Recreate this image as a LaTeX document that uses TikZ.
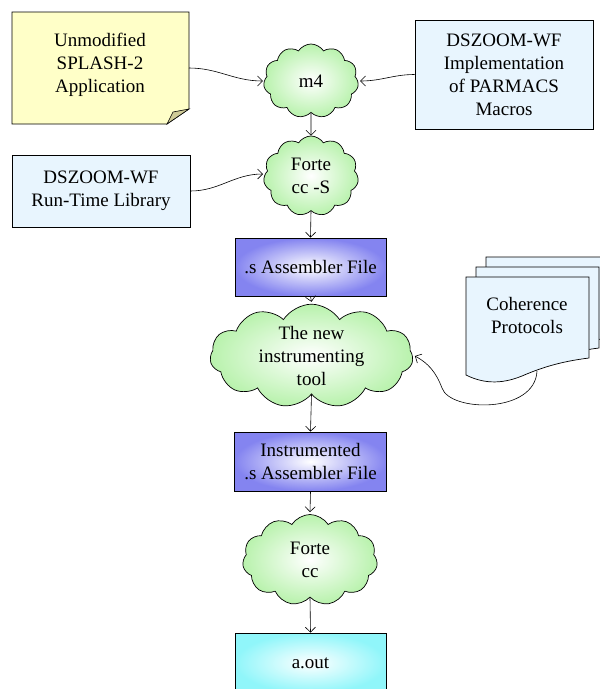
\documentclass[tikz,border=0pt]{standalone}
\usepackage{fontspec}
\setmainfont{Liberation Serif}
\usetikzlibrary{shapes.symbols,arrows.meta}
\definecolor{noteY}{HTML}{FFFFC8}
\definecolor{noteFold}{HTML}{CFCB98}
\definecolor{lblue}{HTML}{E8F5FE}
\definecolor{cgreen}{HTML}{B8F2AC}
\definecolor{purp}{HTML}{8484F0}
\definecolor{cyanb}{HTML}{90F6FA}
\begin{document}
\begin{tikzpicture}[x=1pt,y=-1pt,
  every node/.style={font=\fontsize{19}{23}\selectfont, align=center, inner sep=0pt},
  lbox/.style={draw=black, line width=0.7pt, fill=lblue, rectangle},
  cloudn/.style={draw=black, line width=0.7pt, shape=cloud, cloud puffs=11, cloud puff arc=115, cloud ignores aspect, inner color=white, outer color=cgreen},
  pbox/.style={draw=black, line width=0.7pt, rectangle, inner color=white, outer color=purp},
  cbox/.style={draw=black, line width=0.7pt, rectangle, inner color=white, outer color=cyanb},
  conn/.style={draw=black, line width=0.6pt, -{Straight Barb[length=5pt,width=10pt]}}
]
\useasboundingbox (0,0) rectangle (600,689);
\clip (0,0) rectangle (600,689);
% yellow note
\path[draw=black, line width=0.7pt, fill=noteY] (12,12) -- (189,12) -- (189,109) -- (167,124) -- (12,124) -- cycle;
\path[draw=black, line width=0.6pt, fill=noteFold] (189,109) -- (167,124) -- (173,112) -- cycle;
\node (note) at (100,65) {Unmodified\\SPLASH-2\\Application};
\coordinate (noteE) at (189,68);
% boxes
\node[lbox, minimum width=178pt, minimum height=109pt] (impl) at (504,74.5) {DSZOOM-WF\\Implementation\\of PARMACS\\Macros};
\node[lbox, minimum width=178pt, minimum height=72pt] (rtl) at (101,191) {DSZOOM-WF\\Run-Time Library};
% clouds
\node[cloudn, minimum width=95pt, minimum height=74pt] (m4) at (311,81) {m4};
\node[cloudn, minimum width=95pt, minimum height=80pt] (fs) at (311,176) {Forte\\cc -S};
\node[pbox, minimum width=151pt, minimum height=58pt] (asm) at (310.5,267) {.s Assembler File};
\node[cloudn, minimum width=203pt, minimum height=102pt] (tool) at (311.5,356) {The new\\instrumenting\\tool};
\node[pbox, minimum width=152pt, minimum height=59pt] (iasm) at (310.5,461.5) {Instrumented\\.s Assembler File};
\node[cloudn, minimum width=135pt, minimum height=91pt] (fc) at (310,560) {Forte\\cc};
\node[cbox, minimum width=151pt, minimum height=60pt] (aout) at (310.5,663) {a.out};
% coherence documents
\foreach \d in {20,10,0}{
  \path[draw=black, line width=0.7pt, fill=lblue, shift={(\d,-\d)}]
    (466,277) -- (589,277) -- (589,358)
    .. controls (565,361) and (545,366) .. (522,376)
    .. controls (500,385) and (482,383) .. (466,375) -- cycle;
}
\node (coh) at (527,315) {Coherence\\Protocols};
\coordinate (cohb) at (537,371);
% connectors
\draw[conn] (noteE) to[out=0,in=180] ([xshift=-1pt]m4.west);
\draw[conn] (impl.west) to[out=180,in=0] ([xshift=2pt]m4.east);
\draw[conn] (rtl.east) to[out=0,in=180] ([xshift=-1pt,yshift=2pt]fs.west);
\draw[conn] (m4.south) -- (fs.north);
\draw[conn] (fs.south) -- (asm.north);
\draw[conn] (asm.south) -- ([yshift=2pt]tool.north);
\draw[conn] (tool.south) -- (iasm.north);
\draw[conn] (iasm.south) -- ([yshift=2pt]fc.north);
\draw[conn] (fc.south) -- (aout.north);
\draw[conn] (cohb) .. controls (535,414) and (450,412) .. (442,388)
  .. controls (436,372) and (428,363) .. ([xshift=2pt]tool.east);
\end{tikzpicture}
\end{document}
